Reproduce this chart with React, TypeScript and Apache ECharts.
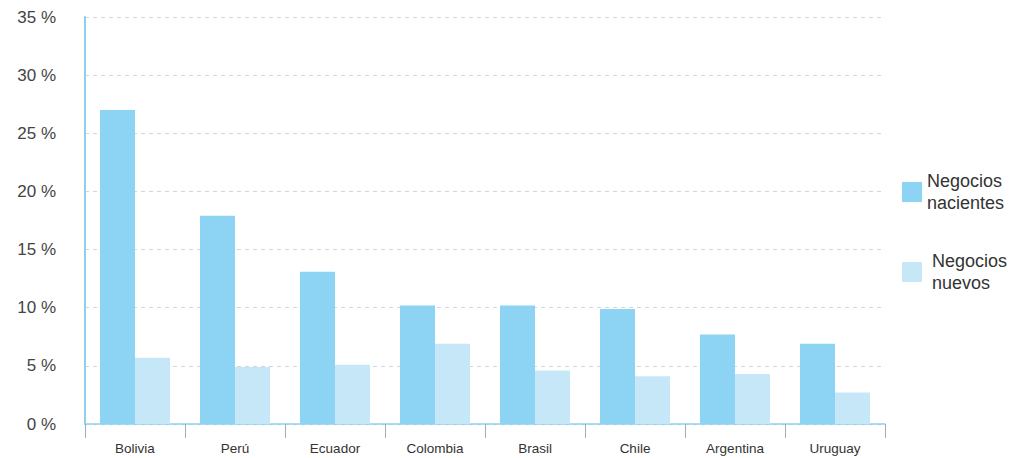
import React, { useEffect, useRef } from "react";
import * as echarts from "echarts";

const countries = ["Bolivia", "Perú", "Ecuador", "Colombia", "Brasil", "Chile", "Argentina", "Uruguay"];
const nacientes = [27.0, 17.9, 13.1, 10.2, 10.2, 9.9, 7.7, 6.9];
const nuevos = [5.7, 4.9, 5.1, 6.9, 4.6, 4.1, 4.3, 2.7];
const seriesNames = ["Negocios\nnacientes", "Negocios\nnuevos"];

const FONT = "Liberation Sans, Arial, Helvetica, sans-serif";

export default function App() {
  const ref = useRef<HTMLDivElement>(null);

  useEffect(() => {
    if (!ref.current) return;
    const chart = echarts.init(ref.current, undefined, { renderer: "svg" });
    chart.setOption({
      animation: false,
      textStyle: { fontFamily: FONT },
      grid: { left: 85, right: 134, top: 17, bottom: 34, containLabel: false },
      legend: {
        orient: "vertical",
        left: 897,
        top: 159,
        itemWidth: 20,
        itemHeight: 20,
        itemGap: 24,
        icon: "rect",
        textStyle: {
          fontSize: 18,
          color: "#333",
          lineHeight: 22,
          fontFamily: FONT,
          padding: [12, 0, 0, 0],
        },
        data: [
          { name: seriesNames[0] },
          { name: seriesNames[1], textStyle: { padding: [12, 0, 0, 5] } },
        ],
      },
      xAxis: {
        type: "category",
        data: countries,
        axisLine: { lineStyle: { color: "#8fd0ef", width: 1.5 } },
        axisTick: { show: true, length: 14, lineStyle: { color: "#9aaec0" } },
        axisLabel: { fontSize: 13.5, color: "#333", margin: 17, fontFamily: FONT },
      },
      yAxis: {
        type: "value",
        min: 0,
        max: 35,
        interval: 5,
        axisLine: { show: true, lineStyle: { color: "#8fd0ef", width: 2 } },
        axisTick: { show: false },
        axisLabel: {
          fontSize: 17,
          color: "#444",
          margin: 29,
          formatter: (v: number) => `${v} %`,
          fontFamily: FONT,
        },
        splitLine: { lineStyle: { color: "#cfd6dc", type: [4, 4], width: 1 } },
      },
      series: [
        {
          name: seriesNames[0],
          type: "bar",
          data: nacientes,
          barWidth: 35,
          barGap: "0%",
          itemStyle: { color: "#8dd3f4" },
        },
        {
          name: seriesNames[1],
          type: "bar",
          data: nuevos,
          barWidth: 35,
          itemStyle: { color: "#c6e7f8" },
        },
      ],
    });
    return () => chart.dispose();
  }, []);

  return <div ref={ref} style={{ width: 1019, height: 458, position: "absolute", left: 0, top: 0 }} />;
}
